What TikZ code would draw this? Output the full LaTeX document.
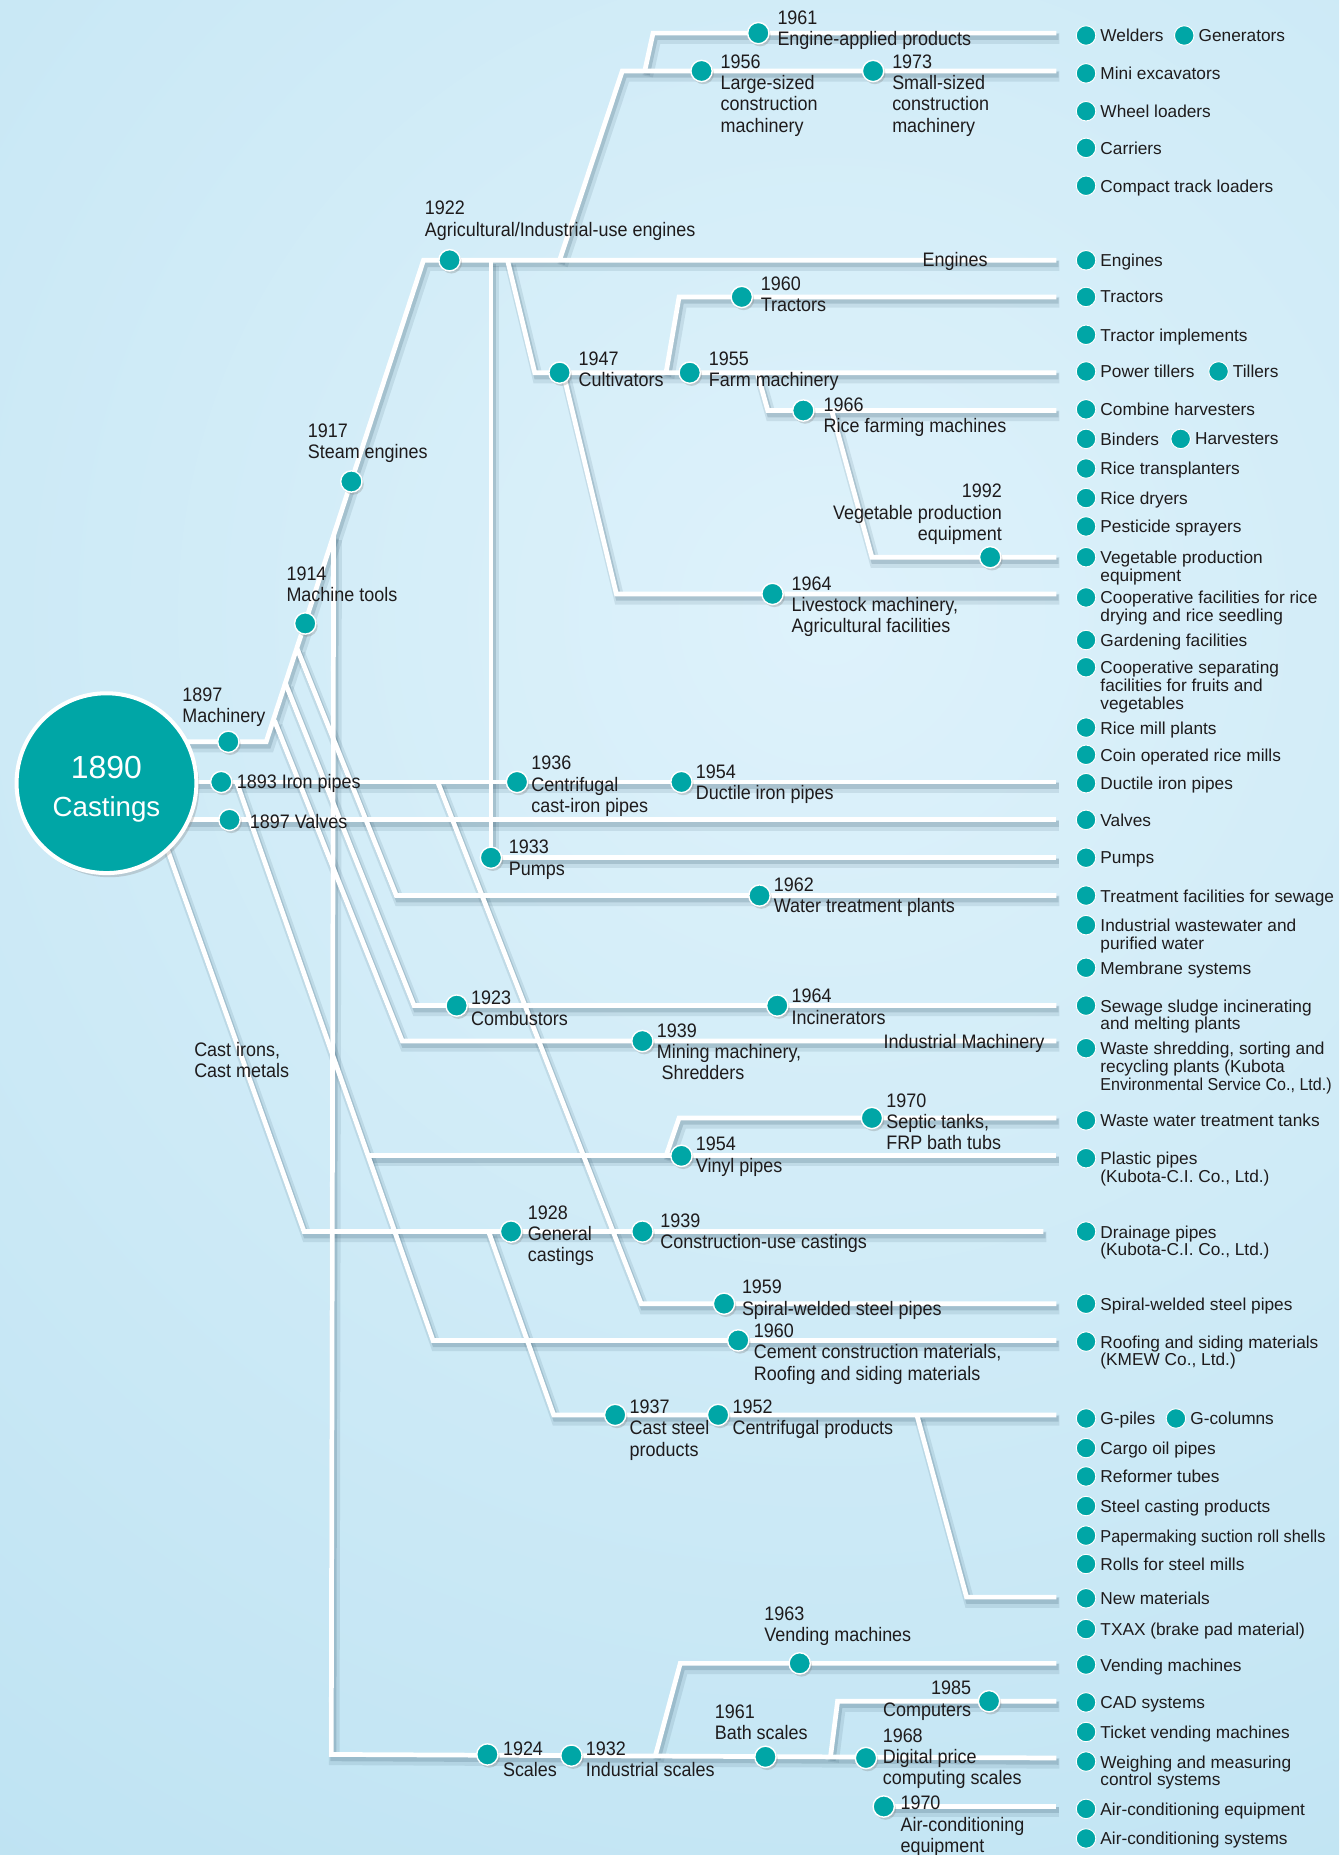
\documentclass[tikz,border=0pt]{standalone}
\usepackage{fontspec}
\setmainfont{Liberation Sans}
\newfontfamily\condf[FakeStretch=0.92]{Liberation Sans}
\usepackage{graphicx}
\usetikzlibrary{shadows}
\definecolor{teal1}{RGB}{0,166,166}
\definecolor{txt}{RGB}{30,27,28}
\definecolor{bgin}{RGB}{222,242,251}
\definecolor{bgout}{RGB}{168,216,236}
\definecolor{shcol}{RGB}{55,90,110}
\newcommand\allpaths[1]{%
 \draw[#1] (150,627) -- (225,627) -- (358,220) -- (893,220);
 \draw[#1] (150,661) -- (893,661);
 \draw[#1] (150,693) -- (893,693);
 \draw[#1] (473,220) -- (526,60) -- (893,60);
 \draw[#1] (545,60) -- (552,28) -- (893,28);
 \draw[#1] (415,220) -- (415,725) -- (893,725);
 \draw[#1] (429,220) -- (452,315) -- (893,315);
 \draw[#1] (476,315) -- (521,502) -- (893,502);
 \draw[#1] (563,315) -- (574,251) -- (893,251);
 \draw[#1] (640,315) -- (649,347) -- (893,347);
 \draw[#1] (703,347) -- (737,471) -- (893,471);
 \draw[#1] (282,452) -- (280,1483) -- (893,1486);
 \draw[#1] (554,1484) -- (575,1406) -- (893,1406);
 \draw[#1] (702,1485) -- (708,1438) -- (893,1438);
 \draw[#1] (747,1527) -- (893,1527);
 \draw[#1] (251,548) -- (335,757) -- (893,757);
 \draw[#1] (241,577) -- (350,850) -- (893,850);
 \draw[#1] (232,609) -- (340,880) -- (893,880);
 \draw[#1] (200,661) -- (366,1133) -- (893,1133);
 \draw[#1] (312,977) -- (893,977);
 \draw[#1] (563,977) -- (574,945) -- (893,945);
 \draw[#1] (134,697) -- (257,1041) -- (882,1041);
 \draw[#1] (413,1041) -- (468,1196) -- (893,1196);
 \draw[#1] (775,1196) -- (817,1350) -- (893,1350);
 \draw[#1] (370,661) -- (542,1102) -- (893,1102);
}
\newcommand\lab[4]{\node[lbl] (#1) at (#2,#3-6) {#4};}
\newcommand\rlab[4]{\node[rlbl] (#1) at (#2,#3-6) {#4};}
\newcommand\itm[3]{\node[dotr] (#1d) at (918,#2) {}; \node[item] (#1) at (930,#2-5.3) {#3};}
\newcommand\itmb[4]{\node[dotr] (#1d) at (#3-12,#2) {}; \node[item] (#1) at (#3,#2-5.3) {#4};}
\begin{document}
\begin{tikzpicture}[x=1pt,y=-1pt,
  wl/.style={draw=white, line width=4pt, line join=miter},
  shA/.style={draw=shcol, line width=9pt, opacity=0.12, line join=miter, xshift=2.5pt, yshift=-4.5pt},
  shB/.style={draw=shcol, line width=5pt, opacity=0.2, line join=miter, xshift=1.8pt, yshift=-3.2pt},
  dot/.style={circle, fill=teal1, draw=white, line width=1.2pt, minimum size=18pt, inner sep=0pt,
     drop shadow={shadow xshift=1.5pt, shadow yshift=-2.2pt, opacity=.3}},
  dotr/.style={circle, fill=teal1, draw=white, line width=0.8pt, minimum size=16.5pt, inner sep=0pt},
  lbl/.style={font=\condf\fontsize{16.5}{18}\selectfont, text=txt, align=left, inner sep=0pt, anchor=north west},
  rlbl/.style={lbl, align=right, anchor=north east},
  item/.style={font=\fontsize{14.6}{15}\selectfont, text=txt, align=left, inner sep=0pt, anchor=north west}]
\useasboundingbox (0,0) rectangle (1132,1568);
\begin{scope}
\clip (0,0) rectangle (1132,1568);
\shade[inner color=bgin, outer color=bgout] (700,520) circle (2200);
\end{scope}
\allpaths{shA}
\allpaths{shB}
\allpaths{wl}
% central circle
\node[circle, fill=teal1, draw=white, line width=3.4pt, minimum size=152pt, inner sep=0pt,
  drop shadow={shadow xshift=2.5pt, shadow yshift=-3.5pt, opacity=.3}] (cast) at (90,662) {};
\node[text=white, font=\fontsize{27}{30}\selectfont] (cy) at (90,649) {1890};
\node[text=white, font=\fontsize{23.4}{26}\selectfont] (cn) at (90,684) {Castings};
% dots on lines
\foreach \n/\x/\y in {d1961e/641/28, d1956/593/60, d1973/738/60, d1922/380/220, d1960t/627/251,
  d1947/473/315, d1955/583/315, d1966/679/347, d1992/837/471, d1964l/653/502, d1917/297/407,
  d1914/258/527, d1897m/193/627, d1893/187/661, d1936/437/661, d1954d/576/661, d1897v/194/693,
  d1933/415/725, d1962/642/757, d1923/386/850, d1964i/657/850, d1939m/543/880, d1970s/737/945,
  d1954v/576/977, d1928/432/1041, d1939c/543/1041, d1959/612/1102, d1960c/624/1133, d1937/520/1196,
  d1952/607/1196, d1963/676/1406, d1985/836/1438, d1924/412/1483, d1932/483/1484, d1961b/647/1485,
  d1968/732/1486, d1970a/747/1527}
  {\node[dot] (\n) at (\x,\y) {};}
% inner labels
\lab{l1922}{359}{176}{1922\\Agricultural/Industrial-use engines}
\lab{l1917}{260}{364}{1917\\Steam engines}
\lab{l1914}{242}{485}{1914\\Machine tools}
\lab{l1897m}{154}{587}{1897\\Machinery}
\lab{l1893}{200}{660}{1893 Iron pipes}
\lab{l1897v}{211}{694}{1897 Valves}
\lab{l1936}{449}{645}{1936\\Centrifugal\\cast-iron pipes}
\lab{l1954d}{588}{652}{1954\\Ductile iron pipes}
\lab{l1933}{430}{716}{1933\\Pumps}
\lab{l1962}{654}{748}{1962\\Water treatment plants}
\lab{l1923}{398}{843}{1923\\Combustors}
\lab{l1964i}{669}{842}{1964\\Incinerators}
\lab{l1939m}{555}{871}{1939\\Mining machinery,\\\hspace*{4pt}Shredders}
\node[lbl, anchor=east] (lind) at (883,882) {Industrial Machinery};
\lab{l1970s}{749}{930}{1970\\Septic tanks,\\FRP bath tubs}
\lab{l1954v}{588}{967}{1954\\Vinyl pipes}
\lab{l1928}{446}{1025}{1928\\General\\castings}
\lab{l1939c}{558}{1032}{1939\\Construction-use castings}
\lab{l1959}{627}{1088}{1959\\Spiral-welded steel pipes}
\lab{l1960c}{637}{1125}{1960\\Cement construction materials,\\Roofing and siding materials}
\lab{l1937}{532}{1189}{1937\\Cast steel\\products}
\lab{l1952}{619}{1189}{1952\\Centrifugal products}
\lab{l1963}{646}{1364}{1963\\Vending machines}
\rlab{l1985}{821}{1427}{1985\\Computers}
\lab{l1961b}{604}{1447}{1961\\Bath scales}
\lab{l1968}{746}{1467}{1968\\Digital price\\computing scales}
\lab{l1970a}{761}{1524}{1970\\Air-conditioning\\equipment}
\lab{l1924}{425}{1478}{1924\\Scales}
\lab{l1932}{495}{1478}{1932\\Industrial scales}
\lab{l1947}{489}{303}{1947\\Cultivators}
\lab{l1955}{599}{303}{1955\\Farm machinery}
\lab{l1960t}{643}{240}{1960\\Tractors}
\lab{l1966}{696}{342}{1966\\Rice farming machines}
\rlab{l1992}{847}{415}{1992\\Vegetable production\\equipment}
\lab{l1964l}{669}{493}{1964\\Livestock machinery,\\Agricultural facilities}
\lab{l1956}{609}{52}{1956\\Large-sized\\construction\\machinery}
\lab{l1973}{754}{52}{1973\\Small-sized\\construction\\machinery}
\lab{l1961e}{657}{15}{1961\\Engine-applied products}
\node[lbl, anchor=east] (leng) at (835,221) {Engines};
\lab{lcast}{164}{887}{Cast irons,\\Cast metals}
% right column
\itm{r01}{30}{Welders}
\itmb{r01b}{30}{1013}{Generators}
\itm{r02}{62}{Mini excavators}
\itm{r03}{94}{Wheel loaders}
\itm{r04}{125}{Carriers}
\itm{r05}{157}{Compact track loaders}
\itm{r06}{220}{Engines}
\itm{r07}{251}{Tractors}
\itm{r08}{283}{Tractor implements}
\itm{r09}{314}{Power tillers}
\itmb{r09b}{314}{1042}{Tillers}
\itm{r10}{346}{Combine harvesters}
\itm{r11}{371}{Binders}
\itmb{r11b}{371}{1010}{Harvesters}
\itm{r12}{396}{Rice transplanters}
\itm{r13}{421}{Rice dryers}
\itm{r14}{445}{Pesticide sprayers}
\itm{r15}{471}{Vegetable production\\equipment}
\itm{r16}{505}{Cooperative facilities for rice\\drying and rice seedling}
\itm{r17}{541}{Gardening facilities}
\itm{r18}{564}{Cooperative separating\\facilities for fruits and\\vegetables}
\itm{r19}{615}{Rice mill plants}
\itm{r20}{638}{Coin operated rice mills}
\itm{r21}{662}{Ductile iron pipes}
\itm{r22}{693}{Valves}
\itm{r23}{725}{Pumps}
\itm{r24}{757}{Treatment facilities for sewage}
\itm{r25}{782}{Industrial wastewater and\\purified water}
\itm{r26}{818}{Membrane systems}
\itm{r27}{850}{Sewage sludge incinerating\\and melting plants}
\itm{r28}{886}{Waste shredding, sorting and\\recycling plants (Kubota\\\scalebox{0.93}[1]{Environmental Service Co., Ltd.)}}
\itm{r29}{947}{Waste water treatment tanks}
\itm{r30}{979}{Plastic pipes\\(Kubota-C.I. Co., Ltd.)}
\itm{r31}{1041}{Drainage pipes\\(Kubota-C.I. Co., Ltd.)}
\itm{r32}{1102}{Spiral-welded steel pipes}
\itm{r33}{1134}{Roofing and siding materials\\(KMEW Co., Ltd.)}
\itm{r34}{1199}{G-piles}
\itmb{r34b}{1199}{1006}{G-columns}
\itm{r35}{1224}{Cargo oil pipes}
\itm{r36}{1248}{Reformer tubes}
\itm{r37}{1273}{Steel casting products}
\itm{r38}{1298}{\scalebox{0.945}[1]{Papermaking suction roll shells}}
\itm{r39}{1322}{Rolls for steel mills}
\itm{r40}{1351}{New materials}
\itm{r41}{1377}{TXAX (brake pad material)}
\itm{r42}{1407}{Vending machines}
\itm{r43}{1439}{CAD systems}
\itm{r44}{1464}{Ticket vending machines}
\itm{r45}{1489}{Weighing and measuring\\control systems}
\itm{r46}{1529}{Air-conditioning equipment}
\itm{r47}{1554}{Air-conditioning systems}
\end{tikzpicture}
\end{document}
